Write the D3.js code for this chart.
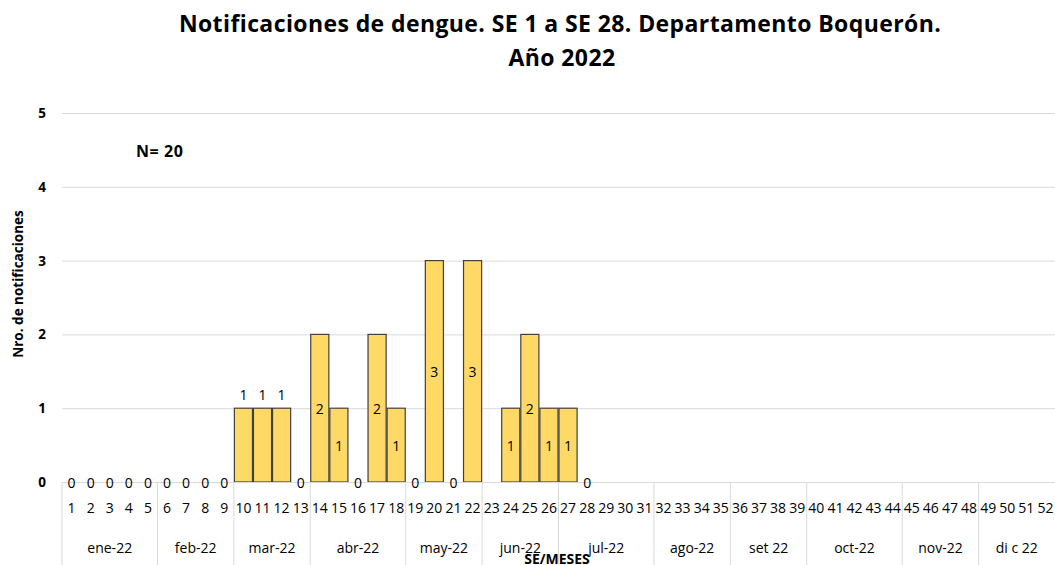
<!DOCTYPE html>
<html><head><meta charset="utf-8">
<script src="https://cdn.jsdelivr.net/npm/d3@7"></script>
<style>
body{margin:0;background:#fff;}
svg{display:block;font-family:"Open Sans",sans-serif;}
</style></head><body>
<svg id="c" width="1055" height="565"></svg>
<script>
const weeks = d3.range(1,53).map(String);
const values = [0,0,0,0,0,0,0,0,0, 1,1,1,0,2,1,0,2,1,0,3,0,3,null,1,2,1,1,0];
const labelPos = ["out","out","out","out","out","out","out","out","out","out","out","out","out","mid","mid","out","mid","mid","out","mid","out","mid",null,"mid","mid","mid","mid","out"];
const months = ["ene-22","feb-22","mar-22","abr-22","may-22","jun-22","jul-22","ago-22","set 22","oct-22","nov-22","di c 22"];
const monthWeeks = [5,4,4,5,4,4,5,4,4,5,4,4];
const yTicks = [0,1,2,3,4,5];

const svg = d3.select("#c");
const L=62, R=1055, T=113, B=482;
const x = d3.scaleBand().domain(weeks).range([L,R]).padding(0);
const y = d3.scaleLinear().domain([0,5]).range([B,T]);

// title
svg.append("text").attr("x",560).attr("y",32).attr("text-anchor","middle")
  .attr("font-size",23).attr("font-weight","bold").attr("letter-spacing",0.4)
  .text("Notificaciones de dengue. SE 1 a SE 28. Departamento Boquerón.");
svg.append("text").attr("x",562).attr("y",66).attr("text-anchor","middle")
  .attr("font-size",23).attr("font-weight","bold").attr("letter-spacing",0.4).text("Año 2022");

// grid
svg.append("g").selectAll("line").data(yTicks.slice(1)).join("line")
  .attr("x1",L).attr("x2",R).attr("y1",d=>y(d)+0.5).attr("y2",d=>y(d)+0.5)
  .attr("stroke","#d9d9d9").attr("stroke-width",1);
// y labels
svg.append("g").selectAll("text").data(yTicks).join("text")
  .attr("x",46).attr("y",d=>y(d)+5).attr("text-anchor","end")
  .attr("font-size",13.5).attr("font-weight","bold").text(d=>d);
svg.append("text").attr("transform","translate(23,284) rotate(-90)").attr("text-anchor","middle")
  .attr("font-size",13.5).attr("font-weight","bold").text("Nro. de notificaciones");

// bars
const data = values.map((v,i)=>({w:weeks[i],v,p:labelPos[i]})).filter(d=>d.v!==null);
svg.append("g").selectAll("rect").data(data.filter(d=>d.v>0)).join("rect")
  .attr("x",d=>x(d.w)+0.5).attr("width",x.bandwidth()-1)
  .attr("y",d=>y(d.v)).attr("height",d=>y(0)-y(d.v))
  .attr("fill","#ffd966").attr("stroke","#404040").attr("stroke-width",1.2);

// x axis line & separators
svg.append("line").attr("x1",L).attr("x2",R).attr("y1",B+0.5).attr("y2",B+0.5).attr("stroke","#d9d9d9");
let acc=0; const seps=[0];
monthWeeks.forEach(n=>{acc+=n; seps.push(acc);});
svg.append("g").selectAll("line").data(seps.slice(0,-1)).join("line")
  .attr("x1",d=>L+d*x.bandwidth()).attr("x2",d=>L+d*x.bandwidth())
  .attr("y1",B).attr("y2",565).attr("stroke","#d9d9d9");

// data labels
svg.append("g").selectAll("text").data(data).join("text")
  .attr("x",d=>x(d.w)+x.bandwidth()/2)
  .attr("y",d=>d.p==="mid" ? (y(d.v)+y(0))/2+5.5 : (d.v===0 ? y(0)+6 : y(d.v)-8))
  .attr("text-anchor","middle").attr("font-size",14).attr("fill","#000").text(d=>d.v);

// week labels
svg.append("g").selectAll("text").data(weeks).join("text")
  .attr("x",d=>x(d)+x.bandwidth()/2).attr("y",513).attr("text-anchor","middle")
  .attr("font-size",14).attr("fill","#000").text(d=>d);

// month labels
svg.append("g").selectAll("text").data(months).join("text")
  .attr("x",(d,i)=>L+(seps[i]+seps[i+1])/2*x.bandwidth()).attr("y",553).attr("text-anchor","middle")
  .attr("font-size",14).attr("fill","#000").text(d=>d);

svg.append("text").attr("x",557).attr("y",564).attr("text-anchor","middle")
  .attr("font-size",14).attr("font-weight","bold").text("SE/MESES");
svg.append("text").attr("x",136).attr("y",157)
  .attr("font-size",16).attr("font-weight","bold").attr("letter-spacing",0.6).text("N= 20");
</script></body></html>
